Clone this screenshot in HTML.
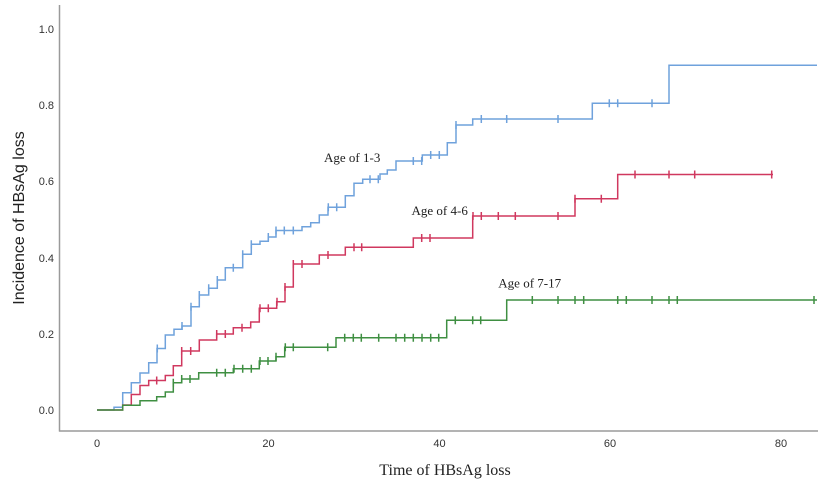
<!DOCTYPE html>
<html>
<head>
<meta charset="utf-8">
<style>
  html, body { margin: 0; padding: 0; background: #ffffff; }
  body { width: 831px; height: 481px; overflow: hidden; }
  svg { display: block; }
  .tl { font-family: "Liberation Sans", Arial, sans-serif; font-size: 11px; fill: #333; }
  .ann { font-family: "Liberation Serif", "Times New Roman", serif; font-size: 13px; fill: #222; }
</style>
</head>
<body>
<svg width="831" height="481" viewBox="0 0 831 481" xmlns="http://www.w3.org/2000/svg">
  <rect x="0" y="0" width="831" height="481" fill="#ffffff"/>

  <!-- axes -->
  <line x1="59.5" y1="5" x2="59.5" y2="431.5" stroke="#9a9a9a" stroke-width="1.5"/>
  <line x1="59" y1="431" x2="818" y2="431" stroke="#9a9a9a" stroke-width="1.5"/>

  <!-- y tick labels -->
  <text class="tl" x="54" y="414" text-anchor="end">0.0</text>
  <text class="tl" x="54" y="338" text-anchor="end">0.2</text>
  <text class="tl" x="54" y="262" text-anchor="end">0.4</text>
  <text class="tl" x="54" y="185" text-anchor="end">0.6</text>
  <text class="tl" x="54" y="109" text-anchor="end">0.8</text>
  <text class="tl" x="54" y="33" text-anchor="end">1.0</text>

  <!-- x tick labels -->
  <text class="tl" x="97" y="447" text-anchor="middle">0</text>
  <text class="tl" x="268.5" y="447" text-anchor="middle">20</text>
  <text class="tl" x="439.5" y="447" text-anchor="middle">40</text>
  <text class="tl" x="610" y="447" text-anchor="middle">60</text>
  <text class="tl" x="781" y="447" text-anchor="middle">80</text>

  <!-- axis titles -->
  <text x="445" y="475" text-anchor="middle" font-family="Liberation Serif, 'Times New Roman', serif" font-size="16" fill="#222">Time of HBsAg loss</text>
  <text transform="translate(24,218) rotate(-90)" text-anchor="middle" font-family="Liberation Sans, Arial, sans-serif" font-size="16" fill="#222">Incidence of HBsAg loss</text>

  <!-- Blue: Age of 1-3 -->
  <g stroke="#6fa2dc" stroke-width="1.5" fill="none">
    <path d="M97,410 H114 V407.3 H122.7 V392.7 H131.3 V382.7 H140 V373 H148.7 V362.7 H157 V348.5 H165.3 V335 H174 V329.3 H182 V326 H191 V306.7 H199.3 V295 H208.7 V288.3 H217.3 V280 H225.3 V267.7 H242.7 V254.3 H251.3 V244.3 H260 V241.3 H268.3 V237 H276 V230.5 H302 V226.7 H310.7 V222.7 H319.3 V215 H328 V207.3 H345.3 V195.7 H354 V183.3 H362.7 V179.3 H380 V174 H387.3 V170 H396 V161 H422.3 V155 H447.3 V142.7 H456 V125 H472.7 V119 H592.3 V103.3 H669 V65.3 H817"/>
    <path d="M157.3,344.5v8 M182,322v8 M191,302.7v8 M199.3,291v8 M208.7,284.3v8 M217.3,276v8 M233.3,263.7v8 M242.7,250.3v8 M251.3,240.3v8 M268.3,233v8 M276,226.5v8 M284.3,226.5v8 M293.3,226.5v8 M328.3,203.3v8 M336.7,203.3v8 M370,175.3v8 M378.3,175.3v8 M413.3,157v8 M421.7,157v8 M430.7,151v8 M439.3,151v8 M456,121v8 M481.3,115v8 M506.7,115v8 M558,115v8 M609.3,99.3v8 M617.7,99.3v8 M652,99.3v8"/>
  </g>

  <!-- Red: Age of 4-6 -->
  <g stroke="#d0385f" stroke-width="1.5" fill="none">
    <path d="M97,410 H122.7 V405 H131.3 V394.5 H140 V385.5 H148.7 V380.5 H165.3 V375.5 H173.3 V365.8 H181.7 V351 H199.3 V340 H216.7 V334 H233.3 V327.7 H250.7 V322 H259.3 V308.3 H276.7 V301.7 H285 V287 H293.3 V264 H319.3 V255 H345.3 V247.3 H413.3 V238 H472.7 V216 H575 V198.7 H617.7 V174.5 H773"/>
    <path d="M156.7,376.5v8 M181.7,347v8 M190.7,347v8 M216.7,330v8 M225.3,330v8 M242,323.7v8 M260,304.3v8 M268.3,304.3v8 M277,297.7v8 M285,283v8 M293.3,260v8 M302,260v8 M328,251v8 M354,243.3v8 M361.7,243.3v8 M421.7,234v8 M430,234v8 M473,212v8 M481.3,212v8 M498.3,212v8 M515.3,212v8 M558,212v8 M575,194.7v8 M601.3,194.7v8 M635,170.5v8 M669,170.5v8 M694.7,170.5v8 M771.7,170.5v8"/>
  </g>

  <!-- Green: Age of 7-17 -->
  <g stroke="#3f8f42" stroke-width="1.5" fill="none">
    <path d="M97,410 H122.7 V405.3 H140 V400.7 H156.7 V396.7 H165.3 V392 H173.3 V382.7 H181.7 V379 H198.7 V372.7 H233.3 V368.7 H259.3 V361 H276 V356.7 H284.7 V347.3 H336 V337.7 H446.7 V320.3 H506.7 V300 H817"/>
    <path d="M173.3,378.7v8 M181.7,375v8 M190,375v8 M216.7,368.7v8 M225.3,368.7v8 M234,364.7v8 M242.7,364.7v8 M251.3,364.7v8 M260,357v8 M268,357v8 M276,352.7v8 M285.3,343.3v8 M293.3,343.3v8 M327.7,343.3v8 M344.7,333.7v8 M353.3,333.7v8 M361.3,333.7v8 M378.7,333.7v8 M396,333.7v8 M404.7,333.7v8 M413.3,333.7v8 M422,333.7v8 M430.7,333.7v8 M438.7,333.7v8 M455.3,316.3v8 M472.7,316.3v8 M480.7,316.3v8 M532.3,296v8 M558,296v8 M575,296v8 M583.7,296v8 M617.7,296v8 M626.3,296v8 M652,296v8 M669,296v8 M677.3,296v8 M814,296v8"/>
  </g>

  <!-- annotations -->
  <text class="ann" x="324" y="162">Age of 1-3</text>
  <text class="ann" x="411.5" y="215">Age of 4-6</text>
  <text class="ann" x="498.3" y="287.5">Age of 7-17</text>
</svg>
</body>
</html>
